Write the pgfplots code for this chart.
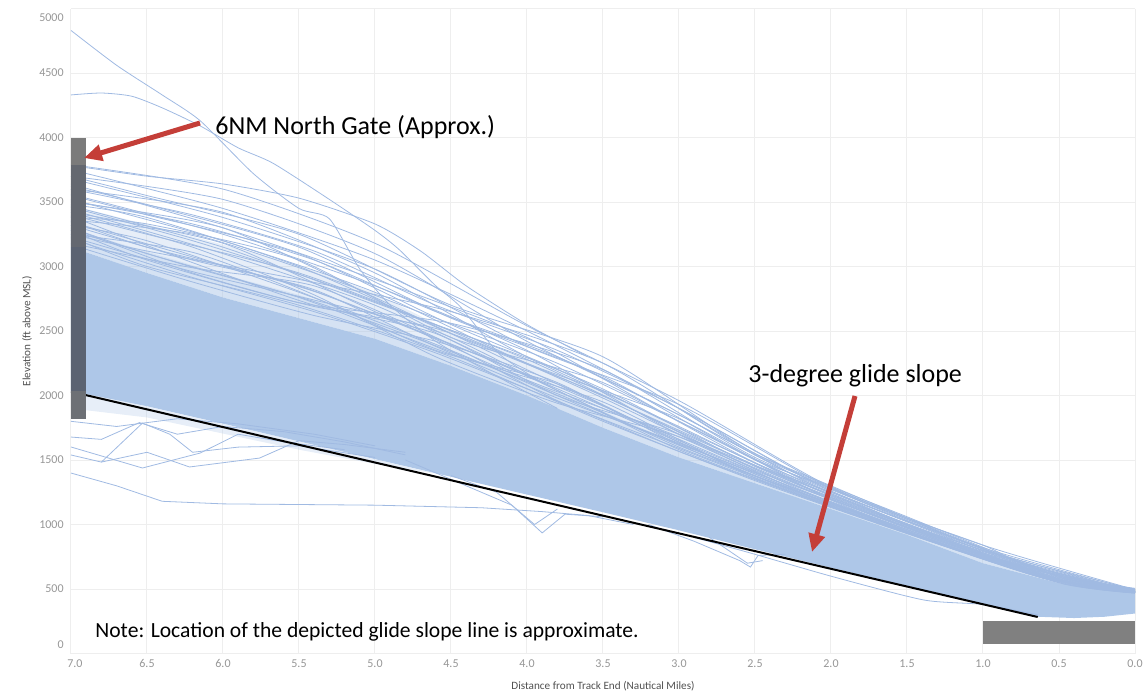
\documentclass[border=0pt]{standalone}
\usepackage{pgfplots}
\pgfplotsset{compat=1.18}
\usepackage{fontspec}
\setmainfont{Carlito}
\usetikzlibrary{arrows.meta}
\definecolor{band}{RGB}{174,199,232}
\definecolor{fringe}{RGB}{160,186,226}
\definecolor{arrowred}{RGB}{196,62,56}
\definecolor{gridc}{RGB}{238,238,238}
\definecolor{tickc}{RGB}{150,150,150}
\definecolor{labc}{RGB}{80,80,80}
\definecolor{barA}{RGB}{123,123,123}
\definecolor{barB}{RGB}{100,104,112}
\definecolor{barC}{RGB}{91,99,114}
\definecolor{barD}{RGB}{109,112,117}
\definecolor{barR}{RGB}{128,128,128}
\begin{document}
\begin{tikzpicture}
\path[use as bounding box] (0,0) rectangle (571.5pt,346pt);
\begin{axis}[
  at={(35.5pt,19.25pt)}, anchor=south west,
  scale only axis, width=532pt, height=322.5pt,
  xmin=0, xmax=7, ymin=0, ymax=5000, x dir=reverse,
  xtick={0,0.5,1,1.5,2,2.5,3,3.5,4,4.5,5,5.5,6,6.5,7},
  xticklabels={0.0\hspace{6pt},0.5,1.0,1.5,2.0,2.5,3.0,3.5,4.0,4.5,5.0,5.5,6.0,6.5,\hspace{4pt}7.0},
  ytick={0,500,1000,1500,2000,2500,3000,3500,4000,4500,5000},
  yticklabels={\smash{\raisebox{2.3pt}{0}},500,1000,1500,2000,2500,3000,3500,4000,4500,\smash{\raisebox{-6.6pt}{5000}}},
  axis line style={draw=none},
  major tick length=0pt,
  grid=major, grid style={gridc, line width=0.5pt},
  tick label style={font=\fontsize{6}{7}\selectfont, text=tickc, inner sep=0pt},
  xticklabel style={anchor=north, yshift=-2.8pt},
  yticklabel style={anchor=east, xshift=-3.5pt},
  /pgf/number format/assume math mode=true,
  xlabel={Distance from Track End (Nautical Miles)},
  ylabel={Elevation (ft above MSL)},
  xlabel style={at={(axis description cs:0.5,-0.0504)}, anchor=center, font=\fontsize{5.6}{7}\selectfont, text=labc},
  ylabel style={at={(axis description cs:-0.0414,0.5)}, anchor=center, font=\fontsize{5.6}{7}\selectfont, text=labc},
  clip=true,
  trk/.style={fringe, line width=0.4pt, smooth, tension=0.4},
  trks/.style={fringe, line width=0.4pt},
]
% semi-dense layers above the solid band
\addplot[draw=none, fill=band, fill opacity=0.3] coordinates {
(7,3475)(6.5,3325)(6,3170)(5.5,3010)(5,2795)(4.5,2495)(4,2280)(3.5,2040)(3,1755)(2.5,1440)(2,1210)(1.5,990)(1,775)(0.5,572)(0,485)
(0,470)(0.5,545)(1,700)(1.5,920)(2,1120)(2.5,1320)(3,1520)(3.5,1750)(4,2000)(4.5,2230)(5,2440)(5.5,2600)(6,2760)(6.5,2950)(7,3150)};
\addplot[draw=none, fill=band, fill opacity=0.3] coordinates {
(7,3293)(6.5,3115)(6,2940)(5.5,2780)(5,2596)(4.5,2347)(4,2123)(3.5,1878)(3,1623)(2.5,1373)(2,1160)(1.5,951)(1,733)(0.5,557)(0,477)
(0,470)(0.5,545)(1,700)(1.5,920)(2,1120)(2.5,1320)(3,1520)(3.5,1750)(4,2000)(4.5,2230)(5,2440)(5.5,2600)(6,2760)(6.5,2950)(7,3150)};
% light layer below band on the left
\addplot[draw=none, fill=band, fill opacity=0.3] coordinates {
(7,2035)(6.5,1915)(6,1780)(5.5,1645)(5,1505)(4.6,1395)(5,1470)(5.5,1580)(6,1705)(6.5,1830)(7,1900)};
% solid band
\addplot[draw=none, fill=band] coordinates {
(7,3150)(6.5,2950)(6,2760)(5.5,2600)(5,2440)(4.5,2230)(4,2000)(3.5,1750)(3,1520)(2.5,1320)(2,1120)(1.5,920)(1,700)(0.5,545)(0,470)
(0,310)(0.2,285)(0.4,275)(0.64,285)(1,387)(1.5,525)(2,665)(2.5,808)(3,955)(3.5,1095)(4,1232)(4.5,1370)(5,1507)(5.5,1645)(6,1782)(6.5,1917)(7,2035)};
% fringe tracks
\addplot[trk] coordinates {(7,3790)(6,3600)(5,3180)(4,2540)(3,1960)(2,1290)(1,840)(0,495)};
\addplot[trk] coordinates {(7,3750)(6,3450)(5,3050)(4,2500)(3,1900)(2,1260)(1,820)(0,490)};
\addplot[trk] coordinates {(7,3700)(6,3520)(5,3100)(4,2420)(3,1850)(2,1240)(1,800)(0,495)};
\addplot[trk] coordinates {(7,3680)(6,3380)(5,2980)(4,2380)(3,1930)(2,1280)(1,810)(0,480)};
\addplot[trk] coordinates {(7,3640)(6,3300)(5,2900)(4,2450)(3,1800)(2,1220)(1,790)(0,485)};
\addplot[trk] coordinates {(7,3600)(6,3420)(5,2950)(4,2300)(3,1760)(2,1200)(1,780)(0,480)};
\addplot[trk] coordinates {(7,3560)(6,3250)(5,2850)(4,2350)(3,1700)(2,1230)(1,770)(0,490)};
\addplot[trk] coordinates {(7,3520)(6,3200)(5,2800)(4,2250)(3,1820)(2,1190)(1,760)(0,475)};
\addplot[trk] coordinates {(7,3500)(6,3300)(5,2760)(4,2200)(3,1650)(2,1170)(1,750)(0,480)};
\addplot[trk] coordinates {(7,3470)(6,3150)(5,2720)(4,2280)(3,1720)(2,1210)(1,765)(0,485)};
\addplot[trk] coordinates {(7,3440)(6,3100)(5,2700)(4,2150)(3,1600)(2,1160)(1,745)(0,470)};
\addplot[trk] coordinates {(7,3420)(6,3180)(5,2650)(4,2120)(3,1680)(2,1150)(1,740)(0,478)};
\addplot[trk] coordinates {(7,3400)(6.5,3250)(5.5,2950)(4.5,2500)(3.5,1980)(2.5,1420)(1.5,980)(0.5,565)(0,475)};
\addplot[trk] coordinates {(7,3380)(6.5,3330)(5.5,3050)(4.5,2450)(3.5,2100)(2.5,1480)(1.5,1000)(0.5,575)(0,480)};
\addplot[trk] coordinates {(7,3350)(6.5,3150)(5.5,2850)(4.5,2400)(3.5,1900)(2.5,1380)(1.5,960)(0.5,560)(0,472)};
\addplot[trk] coordinates {(7,3320)(6.5,3200)(5.5,2800)(4.5,2350)(3.5,1850)(2.5,1400)(1.5,950)(0.5,555)(0,470)};
\addplot[trk] coordinates {(7,3300)(6.5,3100)(5.5,2760)(4.5,2320)(3.5,1950)(2.5,1360)(1.5,940)(0.5,550)(0,468)};
\addplot[trk] coordinates {(7,3280)(6.5,3050)(5.5,2720)(4.5,2560)(3.5,2200)(2.5,1520)(1.5,1040)(0.5,590)(0,490)};
\addplot[trk] coordinates {(7,3250)(6.5,3120)(5.5,2900)(4.5,2650)(3.5,2250)(2.5,1540)(1.5,1050)(0.5,595)(0,498)};
\addplot[trk] coordinates {(7,3230)(6.5,3000)(5.5,2700)(4.5,2300)(3.5,1800)(2.5,1340)(1.5,930)(0.5,548)(0,470)};
\addplot[trk] coordinates {(7,3700)(6.5,3550)(5.5,3250)(4.5,2700)(3.5,2300)(2.5,1550)(1.5,1060)(0.5,600)(0,500)};
\addplot[trk] coordinates {(7,3620)(6.5,3480)(5.5,3150)(4.5,2600)(3.5,2150)(2.5,1500)(1.5,1020)(0.5,580)(0,485)};
\addplot[trk] coordinates {(7,3550)(6.5,3400)(5.5,3100)(4.5,2550)(3.5,2050)(2.5,1450)(1.5,990)(0.5,570)(0,480)};
\addplot[trk] coordinates {(7,3480)(6.5,3380)(5.5,3000)(4.5,2480)(3.5,2000)(2.5,1430)(1.5,970)(0.5,562)(0,476)};
\addplot[trk] coordinates {(7,3215)(6.2,2915)(5.4,2650)(4.6,2330)(3.8,1957)(3,1567)(2.2,1220)(1.4,890)(0.6,583)(0,473)};
\addplot[trk] coordinates {(7,3280)(6.2,2994)(5.4,2728)(4.6,2385)(3.8,2014)(3,1614)(2.2,1241)(1.4,904)(0.6,591)(0,476)};
\addplot[trk] coordinates {(7,3345)(6.2,3074)(5.4,2807)(4.6,2442)(3.8,2070)(3,1661)(2.2,1261)(1.4,919)(0.6,598)(0,479)};
\addplot[trk] coordinates {(7,3250)(6.2,3110)(5.4,2760)(4.6,2350)(3.8,2090)(3,1640)(2.2,1250)(1.4,905)(0.6,590)(0,476)};
\addplot[trk] coordinates {(7,3390)(6.2,3030)(5.4,2700)(4.6,2480)(3.8,2000)(3,1700)(2.2,1270)(1.4,920)(0.6,600)(0,480)};
\addplot[trk] coordinates {(7,3180)(6.2,2990)(5.4,2850)(4.6,2450)(3.8,1960)(3,1590)(2.2,1230)(1.4,895)(0.6,585)(0,472)};
\addplot[trk] coordinates {(7,3420)(6.2,3150)(5.4,2780)(4.6,2300)(3.8,1940)(3,1680)(2.2,1290)(1.4,930)(0.6,605)(0,482)};
\addplot[trk] coordinates {(7,3300)(6.2,2950)(5.4,2690)(4.6,2520)(3.8,2150)(3,1730)(2.2,1300)(1.4,940)(0.6,610)(0,485)};
\addplot[trk] coordinates {(7,3170)(6.2,2880)(5.4,2620)(4.6,2420)(3.8,2100)(3,1620)(2.2,1235)(1.4,900)(0.6,588)(0,474)};
\addplot[trk] coordinates {(7,3460)(6.2,3200)(5.4,2900)(4.6,2550)(3.8,2200)(3,1750)(2.2,1320)(1.4,950)(0.6,615)(0,487)};
\addplot[trk] coordinates {(7,3360)(6.2,3250)(5.4,2950)(4.6,2600)(3.8,2250)(3,1800)(2.2,1340)(1.4,960)(0.6,620)(0,488)};
\addplot[trk] coordinates {(7,3230)(6.2,2960)(5.4,2740)(4.6,2500)(3.8,2040)(3,1580)(2.2,1225)(1.4,895)(0.6,585)(0,474)};
\addplot[trk] coordinates {(7,3510)(6.2,3330)(5.4,3050)(4.6,2650)(3.8,2300)(3,1850)(2.2,1360)(1.4,980)(0.6,630)(0,492)};
\addplot[trk] coordinates {(7,3600)(6.2,3400)(5.4,3120)(4.6,2700)(3.8,2350)(3,1900)(2.2,1380)(1.4,995)(0.6,640)(0,495)};
\addplot[trk] coordinates {(7,3320)(6.2,3050)(5.4,2820)(4.6,2380)(3.8,1980)(3,1630)(2.2,1250)(1.4,910)(0.6,592)(0,477)};
\addplot[trk] coordinates {(2.5,1500)(2,1280)(1.5,1050)(1,840)(0.8,730)(0.5,620)(0.3,560)(0,500)};
\addplot[trk] coordinates {(2.5,1450)(2,1250)(1.5,1000)(1,800)(0.7,690)(0.4,580)(0,495)};
\addplot[trk] coordinates {(3,1900)(2.5,1550)(2,1300)(1.6,1100)(1.2,900)(0.8,720)(0.5,600)(0.2,540)(0,505)};
% high outliers
\addplot[trk] coordinates {(7,4830)(6.7,4560)(6.4,4330)(6.15,4130)(5.8,3720)(5.5,3450)(5.3,3370)(5.1,2980)(4.9,2700)(4.6,2420)(4.2,2150)(3.8,1900)};
\addplot[trk] coordinates {(7,4330)(6.8,4345)(6.6,4320)(6.4,4230)(6.15,4090)(5.9,3920)(5.67,3800)(5.3,3520)(5,3280)(4.84,3130)(4.6,2850)(4.44,2690)(4.18,2320)(3.9,2100)};
\addplot[trk] coordinates {(6.95,3775)(6.5,3700)(6,3640)(5.5,3530)(5,3330)(4.7,3120)(4.4,2850)(4,2550)(3.6,2300)};
% low outliers
\addplot[trks] coordinates {(7,1678)(6.8,1660)(6.55,1790)(6.3,1700)(6,1760)(5.6,1720)(5.2,1640)(4.8,1540)};
\addplot[trks] coordinates {(7,1539)(6.8,1484)(6.53,1786)(6.35,1700)(6.2,1560)(5.9,1600)(5.5,1610)(5,1520)};
\addplot[trks] coordinates {(7,1601)(6.53,1438)(6.15,1554)(5.9,1700)(5.6,1640)(5.2,1580)};
\addplot[trks] coordinates {(7,1399)(6.7,1300)(6.4,1180)(6,1160)(5,1150)(4.3,1130)(3.9,1100)(3.6,1070)(3.3,1000)};
\addplot[trks] coordinates {(6.8,1484)(6.5,1560)(6.22,1446)(5.76,1515)(5.5,1650)(5.2,1620)(4.8,1560)};
\addplot[trks] coordinates {(7,1800)(6.7,1760)(6.3,1820)(5.9,1780)(5.4,1700)(5,1610)};
\addplot[trks] coordinates {(4.8,1500)(4.4,1300)(4.1,1150)(3.9,935)(3.75,1080)(3.5,1060)};
\addplot[trks] coordinates {(4.5,1380)(4.2,1250)(3.95,1000)(3.8,1120)};
\addplot[trks] coordinates {(3.2,1000)(2.9,870)(2.6,720)(2.53,670)(2.48,760)(2.3,770)};
\addplot[trks] coordinates {(2.8,900)(2.55,700)(2.45,720)};
\addplot[trk] coordinates {(2.9,900)(2.53,779)(1.98,593)(1.39,415)(1,380)(0.64,300)};
% glide slope line
\addplot[black, line width=1pt] coordinates {(7,2030)(0.64,283)};
% gate bars
\addplot[draw=none, fill=barA] coordinates {(7,3790)(6.9,3790)(6.9,4000)(7,4000)};
\addplot[draw=none, fill=barB] coordinates {(7,3150)(6.9,3150)(6.9,3790)(7,3790)};
\addplot[draw=none, fill=barC] coordinates {(7,2035)(6.9,2035)(6.9,3150)(7,3150)};
\addplot[draw=none, fill=barD] coordinates {(7,1820)(6.9,1820)(6.9,2035)(7,2035)};
\addplot[draw=none, fill=barR] coordinates {(1.0,75)(0,75)(0,252)(1.0,252)};
\end{axis}
\begin{scope}[shift={(0,346pt)}, x=0.5pt, y=-0.5pt]
\node[anchor=west, inner sep=0pt, font=\fontsize{13}{15}\selectfont] at (215,127) {6NM North Gate (Approx.)};
\node[anchor=west, inner sep=0pt, font=\fontsize{13}{15}\selectfont] at (748,376) {3-degree glide slope};
\node[anchor=west, inner sep=0pt, font=\fontsize{10.8}{13}\selectfont] at (95,632) {Note: Location of the depicted glide slope line is approximate.};
\draw[arrowred, line width=2.5pt, -{Triangle[length=9pt,width=8pt]}] (200,123) -- (84,158);
\draw[arrowred, line width=2.5pt, -{Triangle[length=9pt,width=8pt]}] (855,396) -- (812,552);
\end{scope}
\end{tikzpicture}
\end{document}
